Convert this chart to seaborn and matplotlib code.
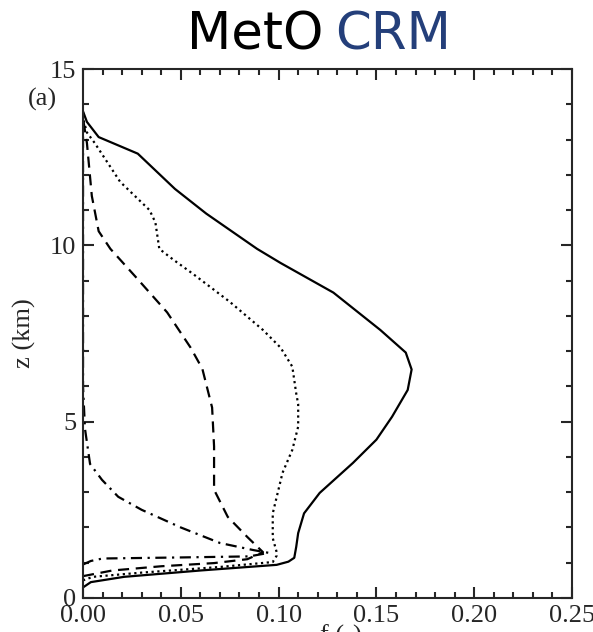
import matplotlib
matplotlib.use("Agg")
import matplotlib.pyplot as plt
import seaborn as sns
import pandas as pd
from matplotlib.ticker import MultipleLocator

# profiles: fraction f against height z (km)
solid_f = [0.000, 0.004, 0.021, 0.060, 0.099, 0.105, 0.108, 0.109, 0.110, 0.113, 0.121, 0.138,
           0.150, 0.158, 0.166, 0.168, 0.165, 0.152, 0.128, 0.101, 0.089, 0.063, 0.047, 0.028,
           0.008, 0.002, 0.000]
solid_z = [0.30, 0.45, 0.60, 0.78, 0.94, 1.03, 1.14, 1.45, 1.84, 2.40, 2.98, 3.83,
           4.49, 5.14, 5.90, 6.48, 6.96, 7.60, 8.66, 9.50, 9.90, 10.90, 11.60, 12.60,
           13.07, 13.50, 13.80]

dotted_f = [0.000, 0.005, 0.030, 0.070, 0.097, 0.099, 0.099, 0.097, 0.097, 0.102, 0.107, 0.110,
            0.110, 0.109, 0.107, 0.101, 0.092, 0.075, 0.056, 0.046, 0.039, 0.037, 0.034, 0.019,
            0.006, 0.002, 0.000]
dotted_z = [0.50, 0.60, 0.72, 0.88, 1.02, 1.20, 1.30, 1.70, 2.40, 3.55, 4.20, 4.86,
            5.50, 5.80, 6.56, 7.10, 7.60, 8.40, 9.20, 9.60, 9.90, 10.65, 11.00, 11.80,
            12.90, 13.20, 13.60]

dashed_f = [0.000, 0.015, 0.040, 0.067, 0.084, 0.092, 0.084, 0.074, 0.067, 0.067, 0.066, 0.061,
            0.055, 0.043, 0.027, 0.014, 0.008, 0.0045, 0.002, 0.000]
dashed_z = [0.62, 0.78, 0.90, 0.99, 1.10, 1.30, 1.73, 2.30, 3.07, 4.30, 5.40, 6.50,
            7.10, 8.10, 9.10, 9.90, 10.40, 11.40, 12.90, 13.60]

dashdot_f = [0.000, 0.004, 0.010, 0.050, 0.085, 0.095, 0.087, 0.070, 0.050, 0.030, 0.018, 0.0097,
             0.0036, 0.001, 0.000, 0.000]
dashdot_z = [0.95, 1.05, 1.12, 1.15, 1.18, 1.28, 1.36, 1.56, 2.00, 2.50, 2.87, 3.35,
             3.80, 4.80, 6.00, 13.80]

x_ticks = [0.00, 0.05, 0.10, 0.15, 0.20, 0.25]
y_ticks = [0, 5, 10, 15]

sns.set_style("ticks")
plt.rcParams['font.family'] = ['Liberation Serif', 'DejaVu Serif']
plt.rcParams['xtick.direction'] = 'in'
plt.rcParams['ytick.direction'] = 'in'

fig = plt.figure(figsize=(5.93, 6.32), dpi=100)
ax = fig.add_axes([0.140, 0.0538, 0.8246, 0.837])

series = [(solid_f, solid_z, '-'),
          (dotted_f, dotted_z, (0, (1, 1.6))),
          (dashed_f, dashed_z, (0, (5, 3))),
          (dashdot_f, dashdot_z, (0, (5, 2.5, 1, 2.5)))]
for f, z, ls in series:
    df = pd.DataFrame({'f': f, 'z': z})
    sns.lineplot(data=df, x='f', y='z', sort=False, estimator=None, color='black',
                 linewidth=1.6, linestyle=ls, ax=ax)

ax.set_xlim(0, 0.25)
ax.set_ylim(0, 15)
ax.set_xticks(x_ticks)
ax.set_xticklabels(['%.2f' % t for t in x_ticks])
ax.set_yticks(y_ticks)
ax.xaxis.set_minor_locator(MultipleLocator(0.01))
ax.yaxis.set_minor_locator(MultipleLocator(1))
ax.tick_params(which='both', top=True, right=True, width=1.5, labelsize=19, pad=5)
ax.tick_params(which='major', length=8)
ax.tick_params(which='minor', length=4.5)
for s in ax.spines.values():
    s.set_linewidth(1.5)

ax.set_xlabel('')
ax.set_ylabel('z (km)', fontsize=19, labelpad=10)
ax.text(-0.084, 0.943, '(a)', transform=ax.transAxes, fontsize=19,
        ha='center', va='center', clip_on=False)
# x label sits mostly below the bottom edge, as in the picture
fig.text(0.575, -0.017, 'f (-)', fontsize=19, ha='center', va='baseline')

fig.text(323 / 593, 1 - 50 / 632, 'MetO', family='DejaVu Sans', fontsize=37,
         ha='right', va='baseline', color='black')
fig.text(335 / 593, 1 - 50 / 632, 'CRM', family='DejaVu Sans', fontsize=37,
         ha='left', va='baseline', color='#243f7a')

fig.savefig('out.png', dpi=100)
